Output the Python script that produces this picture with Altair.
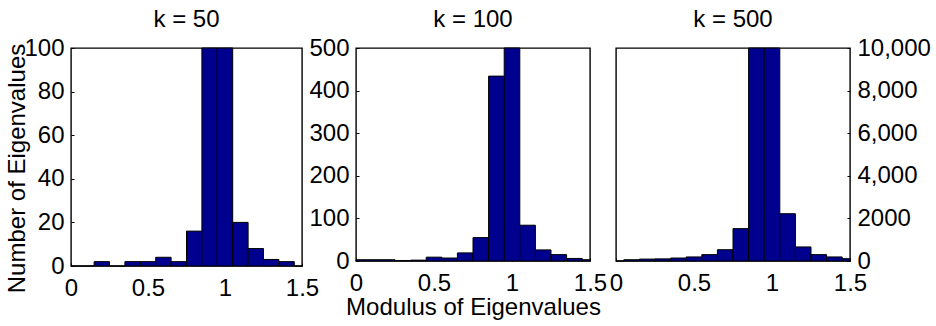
import altair as alt
import pandas as pd

# ---- data ----
bin_centers = [0.0, 0.1, 0.2, 0.3, 0.4, 0.5, 0.6, 0.7, 0.8, 0.9, 1.0, 1.1, 1.2, 1.3, 1.4, 1.5]
bin_width = 0.1
counts_k50 = [0, 0, 2, 0, 2, 2, 4, 2, 16, 160, 190, 20, 8, 3, 2, 0]
counts_k100 = [3, 3, 3, 1, 2, 9, 7, 19, 55, 434, 720, 84, 26, 15, 6, 3]
counts_k500 = [0, 60, 90, 100, 140, 190, 300, 530, 1520, 13000, 15000, 2220, 660, 300, 190, 110]

panel_titles = ["k = 50", "k = 100", "k = 500"]
y_max = [100, 500, 10000]
y_ticks = [
    [0, 20, 40, 60, 80, 100],
    [0, 100, 200, 300, 400, 500],
    [0, 2000, 4000, 6000, 8000, 10000],
]
x_ticks = [0, 0.5, 1, 1.5]
x_title = "Modulus of Eigenvalues"
y_title = "Number of Eigenvalues"

FONT = "Liberation Sans"
FS = 24
BAR = "#00008F"
TICK = 3


def panel(counts, ymax, yticks, title, w, h, y_side,
          xtitle=None, ytitle=None, ylabel_expr=None):
    df = pd.DataFrame({"center": bin_centers, "count": counts})
    df["lo"] = df["center"] - bin_width / 2
    df["hi"] = df["center"] + bin_width / 2
    xs = alt.Scale(domain=[0, 1.5], clamp=True, nice=False, zero=False)
    ys = alt.Scale(domain=[0, ymax], clamp=True, nice=False)

    xa_kw = dict(orient="bottom", values=x_ticks, ticks=True, tickSize=TICK,
                 tickColor="black", tickWidth=1, offset=-TICK, domain=False,
                 labels=True, labelFont=FONT, labelFontSize=FS, labelColor="black",
                 labelPadding=10, labelFlush=False, labelOverlap=False,
                 format="~g", grid=False, title=xtitle)
    if xtitle:
        xa_kw.update(titleFont=FONT, titleFontSize=FS, titleFontWeight="normal",
                     titleColor="black", titlePadding=0)
    ya_kw = dict(orient=y_side, values=yticks, ticks=True, tickSize=TICK,
                 tickColor="black", tickWidth=1, offset=-TICK, domain=False,
                 labels=True, labelFont=FONT, labelFontSize=FS, labelColor="black",
                 labelPadding=7, labelFlush=False, labelOverlap=False, grid=False,
                 title=ytitle)
    if ylabel_expr:
        ya_kw["labelExpr"] = ylabel_expr
    if ytitle:
        ya_kw.update(titleFont=FONT, titleFontSize=FS, titleFontWeight="normal",
                     titleColor="black", titlePadding=-6, titleY=120)

    return alt.Chart(df).mark_bar(color=BAR, stroke="black", strokeWidth=1).encode(
        x=alt.X("lo:Q", scale=xs, axis=alt.Axis(**xa_kw)),
        x2="hi:Q",
        y=alt.Y("count:Q", scale=ys, axis=alt.Axis(**ya_kw)),
        y2=alt.datum(0),
    ).properties(
        width=w,
        height=h,
        title=alt.TitleParams(title, font=FONT, fontSize=FS, fontWeight="normal",
                              color="black", offset=4),
    )


p1 = panel(counts_k50, y_max[0], y_ticks[0], panel_titles[0], 231, 218, "left",
           ytitle=y_title)
p2 = panel(counts_k100, y_max[1], y_ticks[1], panel_titles[1], 234, 213, "left",
           xtitle=x_title)
p3 = panel(counts_k500, y_max[2], y_ticks[2], panel_titles[2], 234, 213, "right",
           ylabel_expr="datum.value == 2000 ? '2000' : format(datum.value, ',')")

inner = alt.hconcat(p2, p3, spacing=26, bounds="flush")
chart = alt.hconcat(p1, inner, spacing=54, bounds="flush").properties(
    padding={"left": 5, "top": 7, "right": 0, "bottom": 0},
    background="white",
).configure_view(stroke="black", strokeWidth=1.4)

chart.save("out.html", embed_options={"renderer": "svg", "actions": False})
